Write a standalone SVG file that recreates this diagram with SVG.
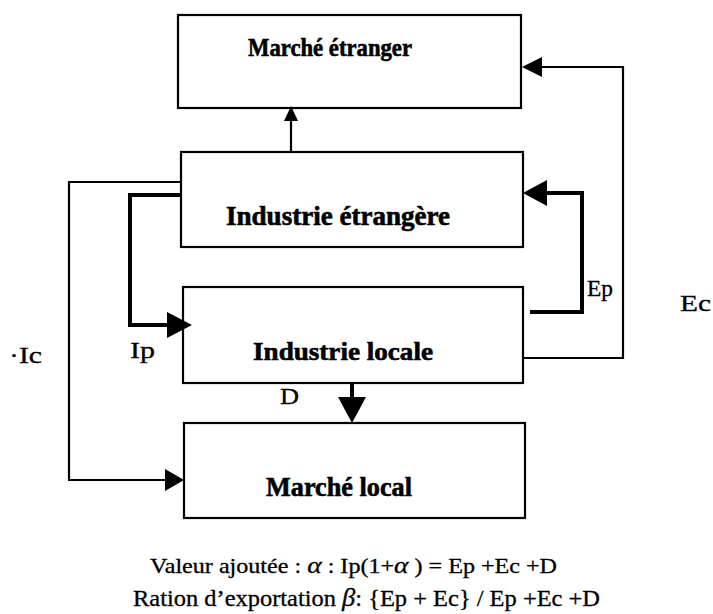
<svg xmlns="http://www.w3.org/2000/svg" width="713" height="614" viewBox="0 0 713 614">
<style>
.box{fill:#fff;stroke:#000;stroke-width:2.2}
.t{font-family:"Liberation Serif","Times New Roman",serif;fill:#000;stroke:#000;stroke-width:0.3}
.b{font-weight:bold;stroke-width:0.6}
.thin{fill:none;stroke:#000;stroke-width:2.2}
.thick{fill:none;stroke:#000;stroke-width:4}
.ah{fill:#000;stroke:none}
.g{font-style:italic}
</style>
<rect width="713" height="614" fill="#fff"/>
<g id="node-marche-etranger">
<rect class="box" x="178" y="15" width="343" height="93"/>
<text class="t b" x="248" y="56" font-size="25" textLength="164" lengthAdjust="spacingAndGlyphs">Marché étranger</text>
</g>
<g id="node-industrie-etrangere">
<rect class="box" x="181" y="152" width="342" height="95"/>
<text class="t b" x="226" y="225" font-size="27" textLength="224" lengthAdjust="spacingAndGlyphs">Industrie étrangère</text>
</g>
<g id="node-industrie-locale">
<rect class="box" x="183" y="287" width="340" height="96"/>
<text class="t b" x="253" y="360" font-size="26" textLength="180" lengthAdjust="spacingAndGlyphs">Industrie locale</text>
</g>
<g id="node-marche-local">
<rect class="box" x="184" y="423" width="341" height="95"/>
<text class="t b" x="266" y="496" font-size="27" textLength="146" lengthAdjust="spacingAndGlyphs">Marché local</text>
</g>
<g id="connectors">
<line class="thin" x1="291" y1="152" x2="291" y2="118"/>
<polygon class="ah" points="291,106 284,121 298,121"/>
<polyline class="thin" points="181,182 69,182 69,480 168,480"/>
<polygon class="ah" points="184,480 165,469 165,491"/>
<polyline class="thick" points="181,195 130,195 130,325 170,325"/>
<polygon class="ah" points="192,325 167,312 167,338"/>
<polyline class="thick" points="530,312 582,312 582,193 545,193"/>
<polygon class="ah" points="523,193 547,180 547,206"/>
<polyline class="thin" points="523,358 623,358 623,67 540,67"/>
<polygon class="ah" points="522,67 542,57 542,77"/>
<line class="thick" x1="352" y1="383" x2="352" y2="399"/>
<polygon class="ah" points="352,423 338,397 366,397"/>
</g>
<g id="labels">
<text class="t" x="587" y="296" font-size="23" textLength="26" lengthAdjust="spacingAndGlyphs">Ep</text>
<text class="t" x="680" y="311" font-size="24" textLength="31" lengthAdjust="spacingAndGlyphs">Ec</text>
<text class="t" x="9" y="363" font-size="23" textLength="33" lengthAdjust="spacingAndGlyphs">·Ic</text>
<text class="t" x="130" y="358" font-size="23" textLength="25" lengthAdjust="spacingAndGlyphs">Ip</text>
<text class="t" x="280" y="404" font-size="24" textLength="19" lengthAdjust="spacingAndGlyphs">D</text>
</g>
<g id="formulas">
<text class="t" x="150" y="573" font-size="21" textLength="407" lengthAdjust="spacingAndGlyphs">Valeur ajoutée :  <tspan class="g" font-size="24">α</tspan>  : Ip(1+<tspan class="g" font-size="24">α</tspan> ) = Ep +Ec +D</text>
<text class="t" x="133" y="606" font-size="23" textLength="467" lengthAdjust="spacingAndGlyphs">Ration d’exportation  <tspan class="g" font-size="25">β</tspan>: {Ep + Ec} / Ep +Ec +D</text>
</g>
</svg>
